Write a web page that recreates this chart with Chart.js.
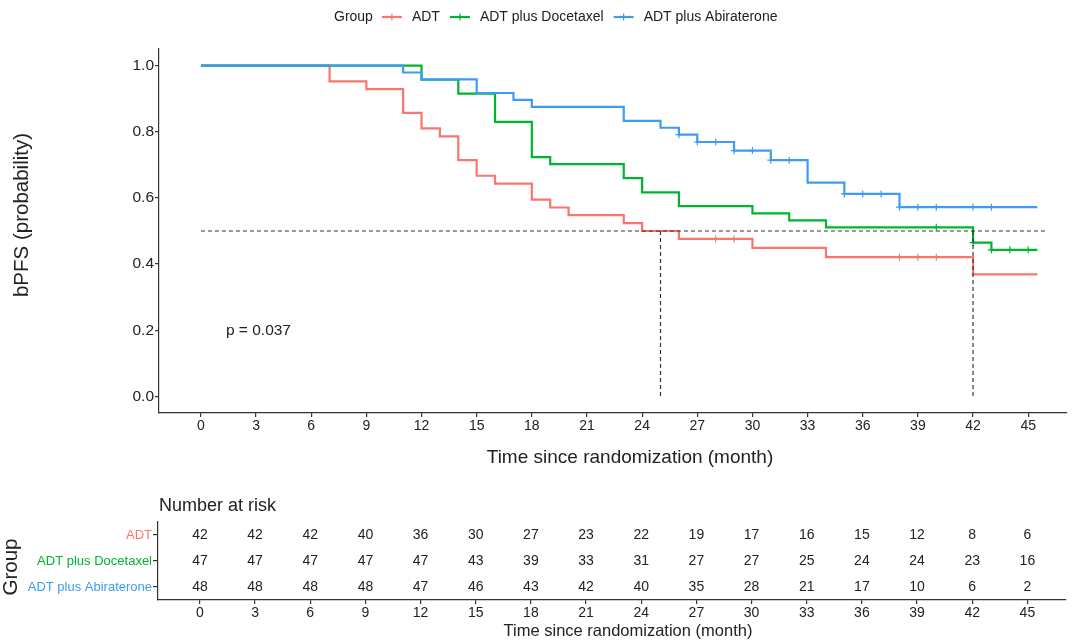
<!DOCTYPE html>
<html>
<head>
<meta charset="utf-8">
<script src="https://cdn.jsdelivr.net/npm/chart.js@4.4.1/dist/chart.umd.min.js"></script>
<style>
  body { margin: 0; background: #fff; }
  #wrap { position: relative; width: 1072px; height: 643px; background: #fff; overflow: hidden; }
  canvas { position: absolute; left: 0; }
</style>
</head>
<body>
<div id="wrap">
  <canvas id="km" width="1072" height="475" style="top:0"></canvas>
  <canvas id="risk" width="1072" height="153" style="top:490px"></canvas>
</div>
<script>
// groups
const groupNames = ["ADT", "ADT plus Docetaxel", "ADT plus Abiraterone"];
const groupColors = ["#F8766D", "#00B52E", "#3D9CF2"];

// KM steps (time in months, survival after the step)
const adtTimes = [0, 7, 9, 11, 12, 13, 14, 15, 16, 18, 19, 20, 23, 24, 26, 30, 34, 42, 45.5];
const adtSurv  = [1, 0.952, 0.929, 0.857, 0.810, 0.786, 0.714, 0.667, 0.643, 0.595, 0.571, 0.548, 0.524, 0.500, 0.476, 0.449, 0.421, 0.369, 0.369];
const adtCens  = [28, 29, 38, 39, 40];

const docTimes = [0, 12, 14, 16, 18, 19, 23, 24, 26, 30, 32, 34, 42, 43, 45.5];
const docSurv  = [1, 0.957, 0.915, 0.830, 0.723, 0.702, 0.660, 0.617, 0.575, 0.553, 0.532, 0.511, 0.465, 0.443, 0.443];
const docCens  = [40, 42, 43, 44, 45];

const abiTimes = [0, 11, 12, 15, 17, 18, 23, 25, 26, 27, 29, 31, 33, 35, 38, 45.5];
const abiSurv  = [1, 0.979, 0.958, 0.917, 0.896, 0.875, 0.833, 0.812, 0.791, 0.769, 0.743, 0.714, 0.646, 0.612, 0.572, 0.572];
const abiCens  = [26, 27, 28, 29, 30, 31, 32, 35, 36, 37, 38, 39, 40, 42, 43];

// median lines
const medianLevel = 0.5;
const medianTimes = [25, 42];
const medianLineEnd = 46;

// axis ticks
const xTicks = [0, 3, 6, 9, 12, 15, 18, 21, 24, 27, 30, 33, 36, 39, 42, 45];
const yTicks = [0, 0.2, 0.4, 0.6, 0.8, 1.0];

// number at risk
const riskTimes = [0, 3, 6, 9, 12, 15, 18, 21, 24, 27, 30, 33, 36, 39, 42, 45];
const riskAdt = [42, 42, 42, 40, 36, 30, 27, 23, 22, 19, 17, 16, 15, 12, 8, 6];
const riskDoc = [47, 47, 47, 47, 47, 43, 39, 33, 31, 27, 27, 25, 24, 24, 23, 16];
const riskAbi = [48, 48, 48, 48, 47, 46, 43, 42, 40, 35, 28, 21, 17, 10, 6, 2];

const pText = "p = 0.037";
const pAt = [1.36, 0.2];

const FONT = "'Liberation Sans', Arial, sans-serif";
const INK = "#222";
Chart.defaults.font.family = FONT;
Chart.defaults.color = INK;

function survAt(times, surv, t) {
  let v = surv[0];
  for (let i = 0; i < times.length; i++) if (times[i] <= t) v = surv[i];
  return v;
}

const curves = [
  { times: abiTimes, surv: abiSurv, cens: abiCens, color: groupColors[2] },
  { times: docTimes, surv: docSurv, cens: docCens, color: groupColors[1] },
  { times: adtTimes, surv: adtSurv, cens: adtCens, color: groupColors[0] }
];

const dash = { showLine: true, borderColor: "#333", borderWidth: 1.2, borderDash: [4, 3], pointRadius: 0 };
const datasets = [
  Object.assign({ data: [{ x: 0, y: medianLevel }, { x: medianLineEnd, y: medianLevel }] }, dash)
];
medianTimes.forEach(m => {
  datasets.push(Object.assign({ data: [{ x: m, y: medianLevel }, { x: m, y: 0 }] }, dash));
});
curves.forEach(c => {
  datasets.push({
    data: c.cens.map(t => ({ x: t, y: survAt(c.times, c.surv, t) })),
    showLine: false, pointStyle: "cross", pointRadius: 3.5,
    borderColor: c.color, borderWidth: 1.2
  });
  datasets.push({
    data: c.times.map((t, i) => ({ x: t, y: c.surv[i] })),
    showLine: true, stepped: "before", borderColor: c.color, borderWidth: 2.2,
    pointRadius: 0, fill: false
  });
});

const axisCommon = {
  type: "linear",
  border: { display: true, color: "#333", width: 1.2 },
  grid: { display: true, drawOnChartArea: false, drawTicks: true, tickLength: 4, color: "#333", lineWidth: 1.2 }
};

// legend, titles and p-value
const kmText = {
  id: "kmText",
  afterDraw(chart) {
    const c = chart.ctx;
    const { x, y } = chart.scales;
    c.save();
    c.fillStyle = INK;
    c.textBaseline = "middle";

    // legend
    c.font = "14px " + FONT;
    let lx = 334;
    const ly = 17;
    c.textAlign = "left";
    c.fillText("Group", lx, ly);
    lx += c.measureText("Group").width + 9;
    groupNames.forEach((g, i) => {
      c.strokeStyle = groupColors[i];
      c.lineWidth = 2.2;
      c.beginPath(); c.moveTo(lx, ly); c.lineTo(lx + 20, ly); c.stroke();
      c.lineWidth = 1.2;
      c.beginPath(); c.moveTo(lx + 10, ly - 3.5); c.lineTo(lx + 10, ly + 3.5); c.stroke();
      lx += 20 + 10;
      c.fillStyle = INK;
      c.fillText(g, lx, ly);
      lx += c.measureText(g).width + 10;
    });

    // p value
    c.font = "15.5px " + FONT;
    c.fillText(pText, x.getPixelForValue(pAt[0]), y.getPixelForValue(pAt[1]));

    // axis titles
    c.font = "19px " + FONT;
    c.textAlign = "center";
    c.fillText("Time since randomization (month)", 630, 458);
    c.save();
    c.translate(22, 215);
    c.rotate(-Math.PI / 2);
    c.font = "20.5px " + FONT;
    c.fillText("bPFS (probability)", 0, 0);
    c.restore();
    c.restore();
  }
};

new Chart(document.getElementById("km"), {
  type: "scatter",
  data: { datasets },
  options: {
    responsive: false,
    animation: false,
    layout: { padding: { left: 0, right: 5, top: 49, bottom: 0 } },
    plugins: { legend: { display: false }, tooltip: { enabled: false } },
    scales: {
      x: Object.assign({}, axisCommon, {
        min: -2.28, max: 47.1,
        afterBuildTicks: s => { s.ticks = xTicks.map(v => ({ value: v })); },
        afterFit: s => { s.height = 62; },
        ticks: { font: { size: 14 }, color: INK, padding: 1, maxRotation: 0, autoSkip: false }
      }),
      y: Object.assign({}, axisCommon, {
        min: -0.05, max: 1.05,
        afterBuildTicks: s => { s.ticks = yTicks.map(v => ({ value: v })); },
        afterFit: s => { s.width = 159; },
        ticks: { font: { size: 15.5 }, color: INK, padding: 1, callback: v => v.toFixed(1) }
      })
    }
  },
  plugins: [kmText]
});

// risk table
const riskRows = [riskAdt, riskDoc, riskAbi];
const riskText = {
  id: "riskText",
  afterDraw(chart) {
    const c = chart.ctx;
    const { x, y } = chart.scales;
    c.save();
    c.fillStyle = INK;
    c.textBaseline = "middle";
    c.textAlign = "center";
    c.font = "14px " + FONT;
    riskRows.forEach((row, r) => {
      row.forEach((n, i) => {
        c.fillText(String(n), x.getPixelForValue(riskTimes[i]), y.getPixelForValue(r));
      });
    });
    c.textAlign = "left";
    c.font = "18px " + FONT;
    c.fillText("Number at risk", chart.chartArea.left + 1, 16);
    c.textAlign = "center";
    c.font = "16.5px " + FONT;
    c.fillText("Time since randomization (month)", 628, 141);
    c.save();
    c.translate(11, 77);
    c.rotate(-Math.PI / 2);
    c.font = "20.5px " + FONT;
    c.fillText("Group", 0, 0);
    c.restore();
    c.restore();
  }
};

new Chart(document.getElementById("risk"), {
  type: "scatter",
  data: { labels: groupNames, datasets: [{ data: [] }] },
  options: {
    responsive: false,
    animation: false,
    layout: { padding: { left: 0, right: 6, top: 32, bottom: 0 } },
    plugins: { legend: { display: false }, tooltip: { enabled: false } },
    scales: {
      x: Object.assign({}, axisCommon, {
        min: -2.28, max: 47.1,
        afterBuildTicks: s => { s.ticks = riskTimes.map(v => ({ value: v })); },
        afterFit: s => { s.height = 43; },
        ticks: { font: { size: 14 }, color: INK, padding: 1, maxRotation: 0, autoSkip: false }
      }),
      y: {
        type: "category",
        labels: groupNames,
        offset: true,
        border: { display: true, color: "#333", width: 1.2 },
        grid: { display: true, drawOnChartArea: false, drawTicks: true, tickLength: 5, color: "#333", lineWidth: 1.2, offset: false },
        afterFit: s => { s.width = 158; },
        ticks: { font: { size: 13 }, padding: 1, color: ctx => groupColors[ctx.index] }
      }
    }
  },
  plugins: [riskText]
});
</script>
</body>
</html>
